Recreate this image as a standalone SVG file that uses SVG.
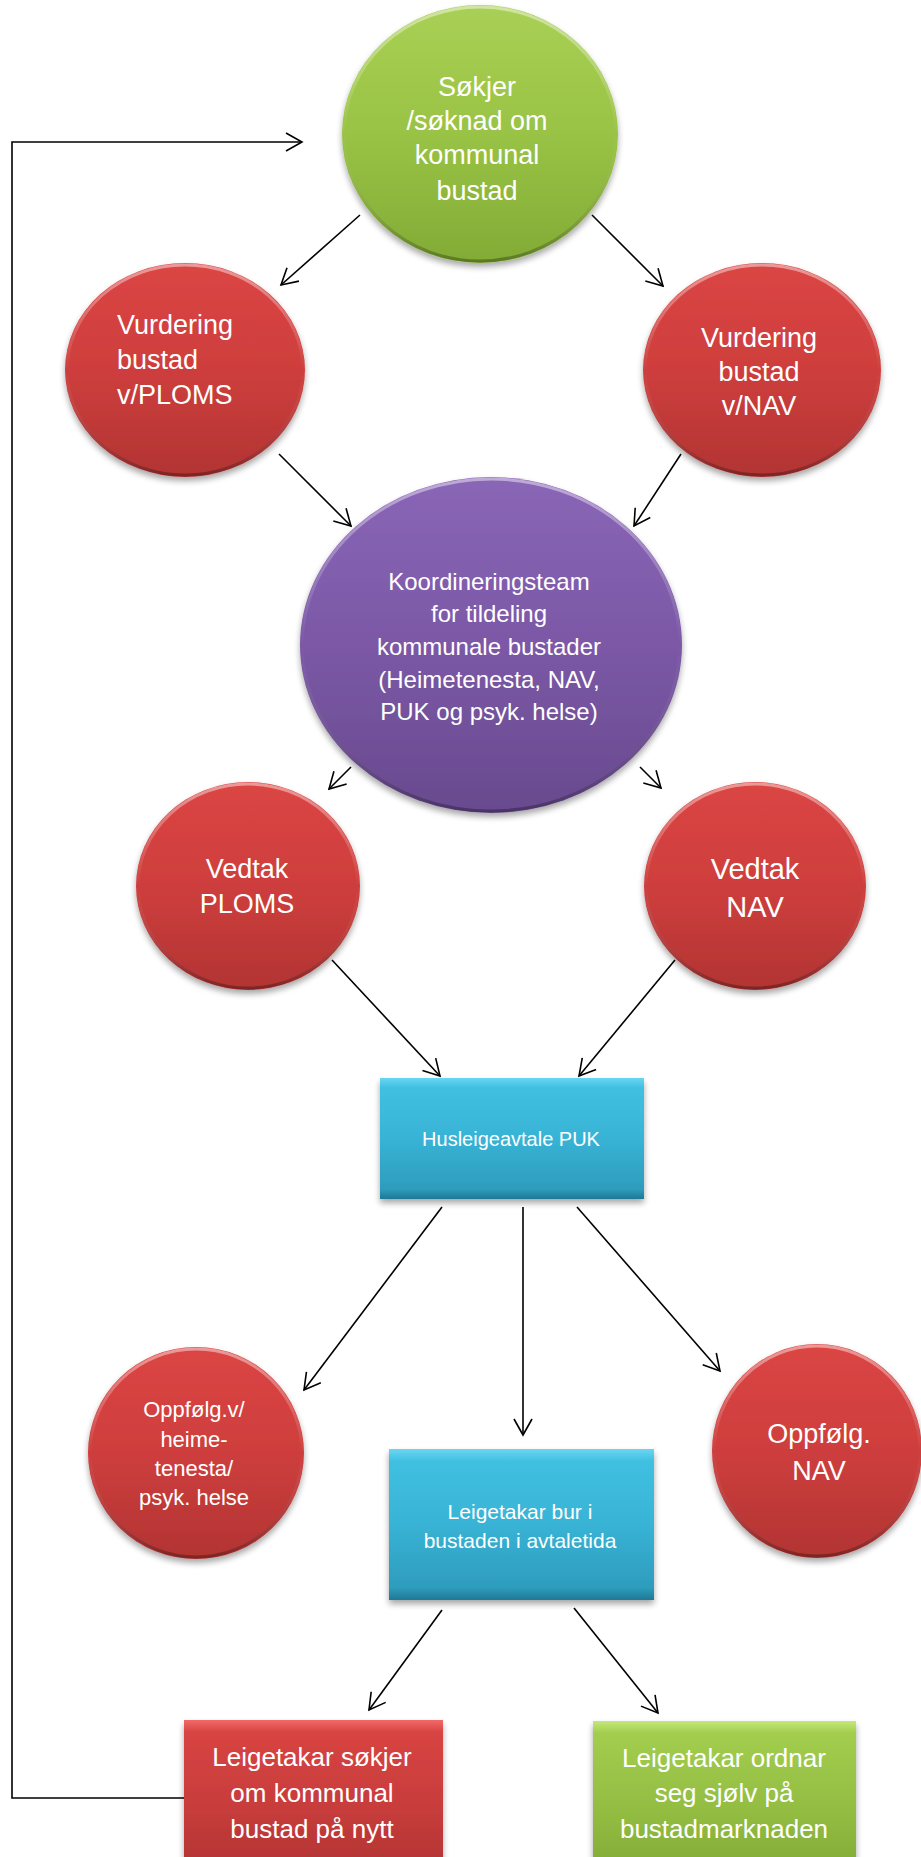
<svg xmlns="http://www.w3.org/2000/svg" width="921" height="1857" viewBox="0 0 921 1857">
<defs>
<linearGradient id="gGreen" x1="0" y1="0" x2="0" y2="1"><stop offset="0" stop-color="#a9d055"/><stop offset="0.5" stop-color="#99c345"/><stop offset="1" stop-color="#82ab36"/></linearGradient>
<linearGradient id="gRed" x1="0" y1="0" x2="0" y2="1"><stop offset="0" stop-color="#db4544"/><stop offset="0.5" stop-color="#ce3e3d"/><stop offset="1" stop-color="#b23433"/></linearGradient>
<linearGradient id="gPurple" x1="0" y1="0" x2="0" y2="1"><stop offset="0" stop-color="#8a66b7"/><stop offset="0.5" stop-color="#7b58a6"/><stop offset="1" stop-color="#684a8e"/></linearGradient>
<linearGradient id="gBlue" x1="0" y1="0" x2="0" y2="1"><stop offset="0" stop-color="#6ad6f2"/><stop offset="0.08" stop-color="#40c0e1"/><stop offset="0.5" stop-color="#38b3d5"/><stop offset="0.92" stop-color="#2e9cbd"/><stop offset="1" stop-color="#1f7895"/></linearGradient>
<linearGradient id="gRedRect" x1="0" y1="0" x2="0" y2="1"><stop offset="0" stop-color="#f06a68"/><stop offset="0.08" stop-color="#d84443"/><stop offset="0.6" stop-color="#c73c3b"/><stop offset="1" stop-color="#b23433"/></linearGradient>
<linearGradient id="gGreenRect" x1="0" y1="0" x2="0" y2="1"><stop offset="0" stop-color="#c4e878"/><stop offset="0.08" stop-color="#a3cd4e"/><stop offset="0.6" stop-color="#93bd42"/><stop offset="1" stop-color="#82ab36"/></linearGradient>
<linearGradient id="gRim" x1="0" y1="0" x2="0" y2="1"><stop offset="0" stop-color="#ffffff" stop-opacity="0.45"/><stop offset="0.5" stop-color="#ffffff" stop-opacity="0"/><stop offset="1" stop-color="#000000" stop-opacity="0.3"/></linearGradient>
<filter id="shadow" x="-10%" y="-10%" width="120%" height="125%"><feGaussianBlur in="SourceAlpha" stdDeviation="3"/><feOffset dx="0" dy="4" result="b"/><feComponentTransfer><feFuncA type="linear" slope="0.35"/></feComponentTransfer><feMerge><feMergeNode/><feMergeNode in="SourceGraphic"/></feMerge></filter>
<marker id="arr" viewBox="-18 -11 20 22" refX="0" refY="0" markerWidth="20" markerHeight="22" markerUnits="userSpaceOnUse" orient="auto"><path d="M -16 -9 L 0 0 L -16 9" fill="none" stroke="#000" stroke-width="1.6"/></marker>
</defs>
<style>
.t{font-family:"Liberation Sans",Arial,sans-serif;fill:#ffffff;text-anchor:middle}
.rim{fill:none;stroke:url(#gRim);stroke-width:3}
.c{fill:none;stroke:#000;stroke-width:1.6;marker-end:url(#arr)}
</style>
<rect width="921" height="1857" fill="#ffffff"/>

<g id="connectors">
<polyline points="184,1798 12,1798 12,142 302,142" fill="none" stroke="#000" stroke-width="1.6" marker-end="url(#arr)"/>
<line class="c" x1="360" y1="215" x2="281" y2="285"/>
<line class="c" x1="592" y1="215" x2="663" y2="286"/>
<line class="c" x1="279" y1="454" x2="351" y2="526"/>
<line class="c" x1="681" y1="454" x2="634" y2="526"/>
<line class="c" x1="351" y1="767" x2="329" y2="789"/>
<line class="c" x1="640" y1="767" x2="661" y2="788"/>
<line class="c" x1="332" y1="960" x2="440" y2="1076"/>
<line class="c" x1="675" y1="960" x2="579" y2="1076"/>
<line class="c" x1="442" y1="1207" x2="304" y2="1390"/>
<line class="c" x1="523" y1="1207" x2="523" y2="1435"/>
<line class="c" x1="577" y1="1207" x2="720" y2="1371"/>
<line class="c" x1="442" y1="1610" x2="369" y2="1710"/>
<line class="c" x1="574" y1="1608" x2="658" y2="1713"/>
</g>

<g id="sokjer">
<ellipse cx="480" cy="134" rx="138" ry="129" fill="url(#gGreen)" filter="url(#shadow)"/>
<ellipse class="rim" cx="480" cy="134" rx="136" ry="127"/>
<text class="t" font-size="27"><tspan x="477" y="96">Søkjer</tspan><tspan x="477" y="130">/søknad om</tspan><tspan x="477" y="164">kommunal</tspan><tspan x="477" y="200">bustad</tspan></text>
</g>

<g id="vurdering-ploms">
<ellipse cx="185" cy="370" rx="120" ry="107" fill="url(#gRed)" filter="url(#shadow)"/>
<ellipse class="rim" cx="185" cy="370" rx="118" ry="105"/>
<text class="t" font-size="27" style="text-anchor:start"><tspan x="117" y="334">Vurdering</tspan><tspan x="117" y="369">bustad</tspan><tspan x="117" y="404">v/PLOMS</tspan></text>
</g>

<g id="vurdering-nav">
<ellipse cx="762" cy="370" rx="119" ry="107" fill="url(#gRed)" filter="url(#shadow)"/>
<ellipse class="rim" cx="762" cy="370" rx="117" ry="105"/>
<text class="t" font-size="27"><tspan x="759" y="347">Vurdering</tspan><tspan x="759" y="381">bustad</tspan><tspan x="759" y="415">v/NAV</tspan></text>
</g>

<g id="koordineringsteam">
<ellipse cx="491" cy="645" rx="191" ry="168" fill="url(#gPurple)" filter="url(#shadow)"/>
<ellipse class="rim" cx="491" cy="645" rx="189" ry="166"/>
<text class="t" font-size="24"><tspan x="489" y="590">Koordineringsteam</tspan><tspan x="489" y="622">for tildeling</tspan><tspan x="489" y="655">kommunale bustader</tspan><tspan x="489" y="688">(Heimetenesta, NAV,</tspan><tspan x="489" y="720">PUK og psyk. helse)</tspan></text>
</g>

<g id="vedtak-ploms">
<ellipse cx="248" cy="886" rx="112" ry="104" fill="url(#gRed)" filter="url(#shadow)"/>
<ellipse class="rim" cx="248" cy="886" rx="110" ry="102"/>
<text class="t" font-size="27"><tspan x="247" y="878">Vedtak</tspan><tspan x="247" y="913">PLOMS</tspan></text>
</g>

<g id="vedtak-nav">
<ellipse cx="755" cy="886" rx="111" ry="104" fill="url(#gRed)" filter="url(#shadow)"/>
<ellipse class="rim" cx="755" cy="886" rx="109" ry="102"/>
<text class="t" font-size="29"><tspan x="755" y="879">Vedtak</tspan><tspan x="755" y="917">NAV</tspan></text>
</g>

<g id="husleigeavtale">
<rect x="380" y="1078" width="264" height="121" fill="url(#gBlue)" filter="url(#shadow)"/>
<text class="t" font-size="20" x="511" y="1146">Husleigeavtale PUK</text>
</g>

<g id="oppfolg-heime">
<ellipse cx="196" cy="1453" rx="108" ry="106" fill="url(#gRed)" filter="url(#shadow)"/>
<ellipse class="rim" cx="196" cy="1453" rx="106" ry="104"/>
<text class="t" font-size="22"><tspan x="194" y="1417">Oppfølg.v/</tspan><tspan x="194" y="1447">heime-</tspan><tspan x="194" y="1476">tenesta/</tspan><tspan x="194" y="1505">psyk. helse</tspan></text>
</g>

<g id="oppfolg-nav">
<ellipse cx="817" cy="1451" rx="105" ry="107" fill="url(#gRed)" filter="url(#shadow)"/>
<ellipse class="rim" cx="817" cy="1451" rx="103" ry="105"/>
<text class="t" font-size="27"><tspan x="819" y="1443">Oppfølg.</tspan><tspan x="819" y="1480">NAV</tspan></text>
</g>

<g id="leigetakar-bur">
<rect x="389" y="1449" width="265" height="151" fill="url(#gBlue)" filter="url(#shadow)"/>
<text class="t" font-size="21"><tspan x="520" y="1519">Leigetakar bur i</tspan><tspan x="520" y="1548">bustaden i avtaletida</tspan></text>
</g>

<g id="leigetakar-sokjer">
<rect x="184" y="1720" width="259" height="150" fill="url(#gRedRect)" filter="url(#shadow)"/>
<text class="t" font-size="26"><tspan x="312" y="1766">Leigetakar søkjer</tspan><tspan x="312" y="1802">om kommunal</tspan><tspan x="312" y="1838">bustad på nytt</tspan></text>
</g>

<g id="leigetakar-ordnar">
<rect x="593" y="1721" width="263" height="150" fill="url(#gGreenRect)" filter="url(#shadow)"/>
<text class="t" font-size="26"><tspan x="724" y="1767">Leigetakar ordnar</tspan><tspan x="724" y="1802">seg sjølv på</tspan><tspan x="724" y="1838">bustadmarknaden</tspan></text>
</g>
</svg>
